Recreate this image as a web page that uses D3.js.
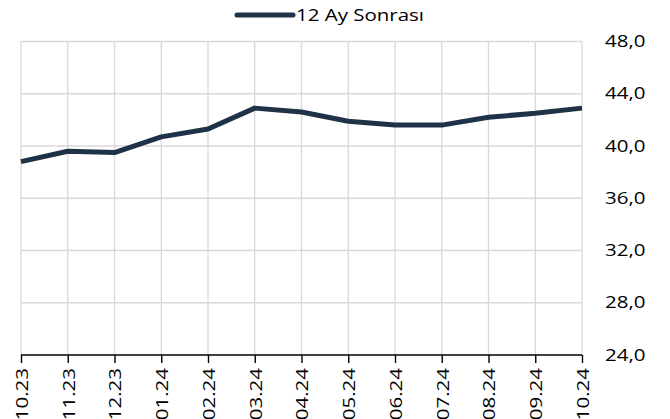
<!DOCTYPE html>
<html><head><meta charset="utf-8">
<script src="https://cdn.jsdelivr.net/npm/d3@7"></script>
<style>body{margin:0;background:#fff}svg{display:block}text{font-family:"Open Sans",sans-serif}</style>
</head><body><svg id="c" width="670" height="419"></svg>
<script>
const categories = ["10.23","11.23","12.23","01.24","02.24","03.24","04.24","05.24","06.24","07.24","08.24","09.24","10.24"];
const values = [38.8,39.6,39.5,40.7,41.3,42.9,42.6,41.9,41.6,41.6,42.2,42.5,42.9];
const yTicks = [24,28,32,36,40,44,48];
const seriesName = "12 Ay Sonrası";

const SX = 1.28; // horizontal stretch of the reference's text
const svg = d3.select("#c");
const L = 21, R = 582, T = 41.5, B = 355;
const x = d3.scalePoint().domain(categories).range([L, R]);
const y = d3.scaleLinear().domain([24,48]).range([B, T]);

// grid
svg.append("g").selectAll("line").data(yTicks.slice(1)).join("line")
  .attr("x1", L).attr("x2", R).attr("y1", d=>y(d)).attr("y2", d=>y(d))
  .attr("stroke", "#d9d9d9").attr("stroke-width", 1.3);
svg.append("g").selectAll("line").data(categories).join("line")
  .attr("x1", d=>x(d)).attr("x2", d=>x(d)).attr("y1", T).attr("y2", B)
  .attr("stroke", "#d9d9d9").attr("stroke-width", 1.3);

// y axis labels (right)
const ya = svg.append("g").attr("transform", `translate(${R+23},0)`)
  .call(d3.axisRight(y).tickValues(yTicks).tickSize(0).tickFormat(d=>d3.format(".1f")(d).replace(".", ",")));
ya.select(".domain").remove();
ya.selectAll("text").attr("font-size", 16).attr("fill", "#000").attr("x", 0)
  .attr("transform", `scale(${SX},1)`);

// x axis
const xa = svg.append("g").attr("transform", `translate(0,${B})`)
  .call(d3.axisBottom(x).tickSize(8).tickSizeOuter(0));
xa.select(".domain").attr("stroke", "#000").attr("stroke-width", 1.6).attr("d", `M${L},0H${R}`);
xa.selectAll(".tick line").attr("stroke", "#000").attr("stroke-width", 1.4);
xa.selectAll("text").attr("font-size", 16).attr("fill", "#000")
  .attr("transform", `rotate(-90) scale(${SX},1)`).attr("text-anchor", "end")
  .attr("dy", "0.4em").attr("x", -13/SX).attr("y", 0);

// line
const line = d3.line().x((d,i)=>x(categories[i])).y(d=>y(d));
svg.append("path").datum(values).attr("d", line)
  .attr("fill", "none").attr("stroke", "#1f3247").attr("stroke-width", 5).attr("stroke-linejoin", "round");

// legend
const lg = svg.append("g");
lg.append("line").attr("x1", 237).attr("x2", 293).attr("y1", 15).attr("y2", 15)
  .attr("stroke", "#1f3247").attr("stroke-width", 5).attr("stroke-linecap", "round");
lg.append("text").attr("transform", `translate(296,15) scale(${SX},1)`).attr("dy", "0.35em")
  .attr("font-size", 16).attr("fill", "#000").text(seriesName);
</script></body></html>
